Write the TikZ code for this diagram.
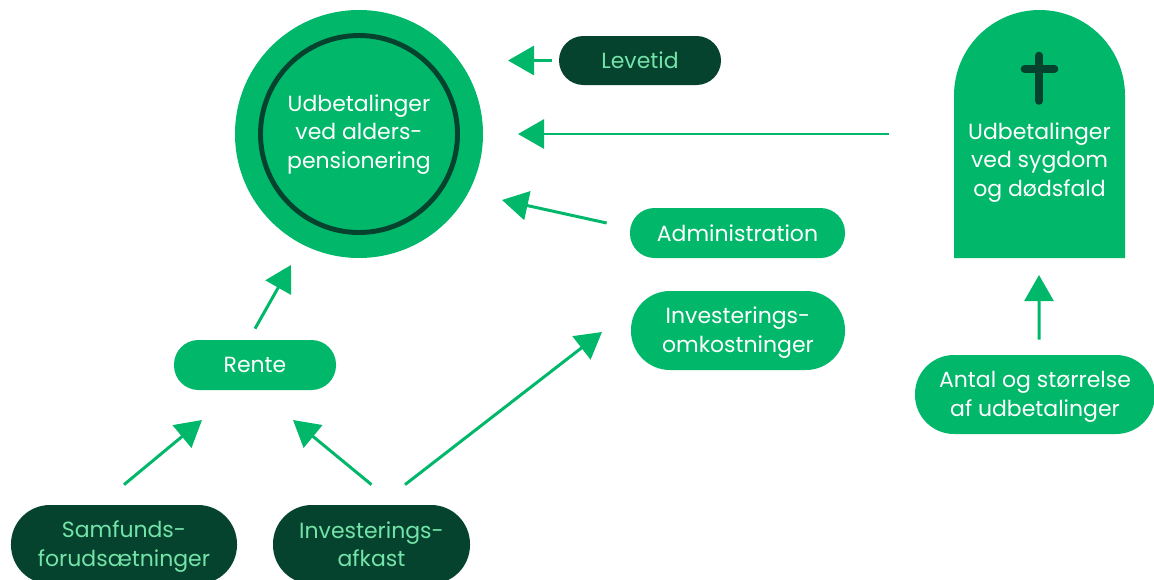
\documentclass[tikz,border=0pt]{standalone}
\usepackage{fontspec}
\usepackage{xcolor}
\setmainfont{Poppins}
\usetikzlibrary{arrows.meta}
\definecolor{pgreen}{HTML}{00B76A}
\definecolor{pdark}{HTML}{05432F}
\definecolor{plight}{HTML}{74E3A8}
\newcommand{\lowtext}{\rule{0pt}{12pt}}
\tikzset{
  lbl/.style={font=\fontsize{12.5pt}{16.2pt}\selectfont,align=center,inner sep=0pt},
  pill/.style={lbl,rectangle,fill=pgreen,text=white,rounded corners=0.49cm},
  pilltwo/.style={pill,rounded corners=0.78cm,minimum height=1.58cm},
  darkpill/.style={fill=pdark,text=plight},
  flow/.style={draw=pgreen,line width=1.7pt,-{Triangle[length=0.52cm,width=0.58cm]}}
}
\begin{document}
\begin{tikzpicture}
\useasboundingbox (0,0) rectangle (23.08,-11.6);
\clip (0,0) rectangle (23.08,-11.6);
% payout circle
\node (main) [circle,fill=pgreen,minimum size=4.96cm,inner sep=0pt] at (7.18,-2.68) {};
\node (ring) [circle,draw=pdark,line width=2.8pt,minimum size=3.94cm,inner sep=0pt] at (7.18,-2.68) {};
\node (maintext) [lbl,text=white] at (7.18,-2.69) {Udbetalinger\\ved alders-\\pensionering};
% gravestone
\fill [pgreen] (19.08,-5.16) -- (19.08,-1.91) arc (180:0:1.71) -- (22.5,-5.16) -- cycle;
\draw [pdark,line width=4.3pt,line cap=round] (20.78,-1.11) -- (20.78,-2.02);
\draw [pdark,line width=4.3pt,line cap=round] (20.49,-1.38) -- (21.09,-1.38);
\node (grave) [lbl,text=white,minimum width=3.42cm] at (20.79,-3.25) {Udbetalinger\\ved sygdom\\og dødsfald};
% boxes
\node (levetid) [pill,darkpill,minimum width=3.24cm,minimum height=0.98cm] at (12.8,-1.21) {Levetid};
\node (admin) [pill,minimum width=4.3cm,minimum height=1cm] at (14.75,-4.66) {Administration};
\node (omk) [pilltwo,minimum width=4.28cm] at (14.76,-6.61) {\lowtext Investerings-\\omkostninger};
\node (rente) [pill,minimum width=3.24cm,minimum height=1cm] at (5.1,-7.3) {Rente};
\node (antal) [pilltwo,minimum width=4.8cm] at (20.7,-7.89) {\lowtext Antal og størrelse\\af udbetalinger};
\node (samf) [pilltwo,darkpill,minimum width=4.52cm] at (2.48,-10.89) {\lowtext Samfunds-\\forudsætninger};
\node (afkast) [pilltwo,darkpill,minimum width=3.94cm] at (7.43,-10.89) {Investerings-\\afkast};
% arrow tips
\coordinate (tiplevetid) at (10.16,-1.21);
\coordinate (tipgrave) at (10.36,-2.68);
\coordinate (tipadmin) at (10.04,-4);
\coordinate (tiprente) at (5.82,-5.3);
\coordinate (tipsamf) at (4.04,-8.4);
\coordinate (tipafkast) at (5.86,-8.4);
\coordinate (tipomk) at (12.04,-6.64);
\coordinate (tipantal) at (20.78,-5.5);
% arrows
\draw [flow,shorten <=0.14cm] (levetid.west) -- (tiplevetid);
\draw [flow] ([shift={(-1.3,0.57)}]grave.west) -- (tipgrave);
\draw [flow] ([shift={(-0.46,0.2)}]admin.west) -- (tipadmin);
\draw [flow] ([yshift=0.22cm]rente.north) -- (tiprente);
\draw [flow] ([yshift=0.4cm]samf.north) -- (tipsamf);
\draw [flow] ([yshift=0.4cm]afkast.north) -- (tipafkast);
\draw [flow] ([shift={(0.67,0.4)}]afkast.north) -- (tipomk);
\draw [flow] ([shift={(0.08,0.3)}]antal.north) -- (tipantal);
\end{tikzpicture}
\end{document}
